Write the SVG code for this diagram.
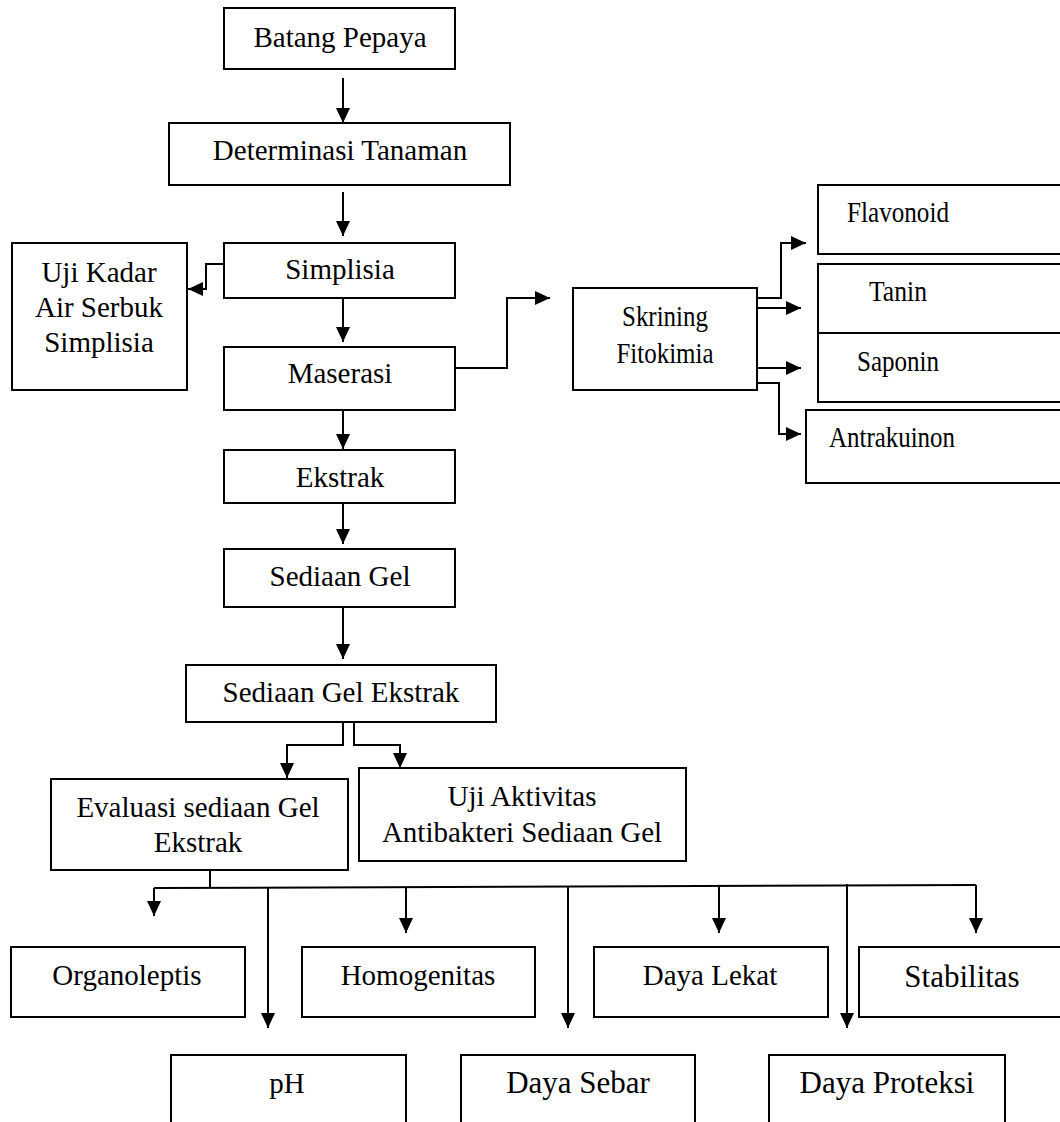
<svg xmlns="http://www.w3.org/2000/svg" width="1060" height="1122" viewBox="0 0 1060 1122">
<style>
.box{fill:#fff;stroke:#000;stroke-width:2}
.t{font-family:"Liberation Serif","Times New Roman",serif;font-size:29px;fill:#000;text-anchor:middle}
.tb{font-family:"Liberation Serif","Times New Roman",serif;font-size:29px;fill:#000;text-anchor:middle}
.tl{font-family:"Liberation Serif","Times New Roman",serif;font-size:31px;fill:#000;text-anchor:middle}
.c{fill:none;stroke:#000;stroke-width:2;marker-end:url(#ah)}
.cn{fill:none;stroke:#000;stroke-width:2}
</style>
<defs>
<marker id="ah" markerUnits="userSpaceOnUse" markerWidth="15" markerHeight="14" refX="15" refY="7" orient="auto">
<path d="M0,0 L15,7 L0,14 z" fill="#000"/>
</marker>
</defs>
<rect width="1060" height="1122" fill="#fff"/>
<g id="connectors">
<path class="c" d="M343,78 V123"/>
<path class="c" d="M343,192 V236"/>
<path class="c" d="M224,264 H206 V289 H188"/>
<path class="c" d="M343,298 V342"/>
<path class="c" d="M455,368 H507 V298 H550"/>
<path class="c" d="M757,298 H781 V243 H806"/>
<path class="c" d="M757,308 H801"/>
<path class="c" d="M757,368 H801"/>
<path class="c" d="M757,383 H779 V434 H801"/>
<path class="c" d="M343,410 V449"/>
<path class="c" d="M343,503 V544"/>
<path class="c" d="M343,607 V659"/>
<path class="c" d="M343,722 V745 H287 V778"/>
<path class="c" d="M354,722 V745 H400 V768"/>
<path class="cn" d="M210,870 V887"/>
<path class="cn" d="M154,888 L976,885"/>
<path class="c" d="M154,888 V916"/>
<path class="c" d="M268,888 V1028"/>
<path class="c" d="M406,887 V933"/>
<path class="c" d="M568,887 V1028"/>
<path class="c" d="M719,886 V933"/>
<path class="c" d="M847,884 V1028"/>
<path class="c" d="M976,885 V933"/>
</g>
<g id="batang-pepaya"><rect class="box" x="224" y="8" width="231" height="61"/><text class="t" x="340" y="47">Batang Pepaya</text></g>
<g id="determinasi"><rect class="box" x="169" y="123" width="341" height="62"/><text class="t" x="340" y="160">Determinasi Tanaman</text></g>
<g id="simplisia"><rect class="box" x="224" y="243" width="231" height="55"/><text class="t" x="340" y="279">Simplisia</text></g>
<g id="uji-kadar"><rect class="box" x="12" y="243" width="175" height="147"/><text class="t" x="99" y="282">Uji Kadar</text><text class="t" x="99" y="317">Air Serbuk</text><text class="t" x="99" y="352">Simplisia</text></g>
<g id="maserasi"><rect class="box" x="224" y="347" width="231" height="63"/><text class="t" x="340" y="383">Maserasi</text></g>
<g id="skrining"><rect class="box" x="573" y="288" width="184" height="102"/><text class="t" x="665" y="326" textLength="86" lengthAdjust="spacingAndGlyphs">Skrining</text><text class="t" x="665" y="363" textLength="97" lengthAdjust="spacingAndGlyphs">Fitokimia</text></g>
<g id="flavonoid"><rect class="box" x="818" y="185" width="250" height="69"/><text class="t" x="898" y="222" textLength="102" lengthAdjust="spacingAndGlyphs">Flavonoid</text></g>
<g id="tanin"><rect class="box" x="818" y="264" width="250" height="69"/><text class="t" x="898" y="301" textLength="58" lengthAdjust="spacingAndGlyphs">Tanin</text></g>
<g id="saponin"><rect class="box" x="818" y="333" width="250" height="69"/><text class="t" x="898" y="371" textLength="82" lengthAdjust="spacingAndGlyphs">Saponin</text></g>
<g id="antrakuinon"><rect class="box" x="806" y="410" width="262" height="73"/><text class="t" x="892" y="447" textLength="126" lengthAdjust="spacingAndGlyphs">Antrakuinon</text></g>
<g id="ekstrak"><rect class="box" x="224" y="450" width="231" height="53"/><text class="t" x="340" y="487">Ekstrak</text></g>
<g id="sediaan-gel"><rect class="box" x="224" y="549" width="231" height="58"/><text class="t" x="340" y="586">Sediaan Gel</text></g>
<g id="sediaan-gel-ekstrak"><rect class="box" x="186" y="665" width="310" height="57"/><text class="t" x="341" y="702">Sediaan Gel Ekstrak</text></g>
<g id="evaluasi"><rect class="box" x="51" y="779" width="297" height="91"/><text class="t" x="198" y="817">Evaluasi sediaan Gel</text><text class="t" x="198" y="852">Ekstrak</text></g>
<g id="uji-aktivitas"><rect class="box" x="359" y="768" width="327" height="93"/><text class="t" x="522" y="806">Uji Aktivitas</text><text class="t" x="522" y="842">Antibakteri Sediaan Gel</text></g>
<g id="organoleptis"><rect class="box" x="11" y="947" width="234" height="70"/><text class="tb" x="127" y="985">Organoleptis</text></g>
<g id="homogenitas"><rect class="box" x="302" y="947" width="233" height="70"/><text class="tb" x="418" y="985">Homogenitas</text></g>
<g id="daya-lekat"><rect class="box" x="594" y="947" width="234" height="70"/><text class="tb" x="710" y="985">Daya Lekat</text></g>
<g id="stabilitas"><rect class="box" x="859" y="947" width="210" height="70"/><text class="tl" x="962" y="987">Stabilitas</text></g>
<g id="ph"><rect class="box" x="171" y="1055" width="235" height="80"/><text class="tb" x="287" y="1093">pH</text></g>
<g id="daya-sebar"><rect class="box" x="461" y="1055" width="234" height="80"/><text class="tl" x="578" y="1093">Daya Sebar</text></g>
<g id="daya-proteksi"><rect class="box" x="769" y="1055" width="236" height="80"/><text class="tl" x="887" y="1093">Daya Proteksi</text></g>
</svg>
